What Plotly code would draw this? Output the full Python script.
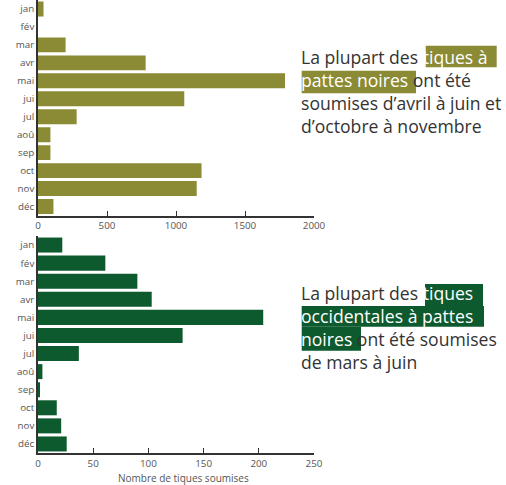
import plotly.graph_objects as go

mois = ["jan", "fév", "mar", "avr", "mai", "jui", "jul", "aoû", "sep", "oct", "nov", "déc"]
tiques_pattes_noires = [40, 0, 200, 780, 1790, 1060, 280, 90, 90, 1185, 1150, 112]
tiques_occidentales = [22, 61, 90, 103, 204, 131, 37, 4, 1, 17, 21, 26]
ticks_haut = [0, 500, 1000, 1500, 2000]
ticks_bas = [0, 50, 100, 150, 200, 250]

OLIVE = "#8B8A35"
VERT = "#0E5A2F"
FONT = "Open Sans"

W, H = 506, 485
L, R, T, B = 38, 192, 0, 32
PW, PH = W - L - R, H - T - B


def px(x):
    return (x - L) / PW


def py(y):
    return (H - B - y) / PH


fig = go.Figure()
fig.add_trace(go.Bar(y=mois, x=tiques_pattes_noires, orientation="h",
                     marker=dict(color=OLIVE, line_width=0), xaxis="x", yaxis="y",
                     hoverinfo="x+y"))
fig.add_trace(go.Bar(y=mois, x=tiques_occidentales, orientation="h",
                     marker=dict(color=VERT, line_width=0), xaxis="x2", yaxis="y2",
                     hoverinfo="x+y"))

axis_common = dict(showline=True, linecolor="#333333", linewidth=1.5, showgrid=False,
                   zeroline=False, automargin=False,
                   tickfont=dict(family=FONT, size=9.8, color="#555555"))

fig.update_layout(
    width=W, height=H,
    margin=dict(l=L, r=R, t=T, b=B),
    paper_bgcolor="white", plot_bgcolor="white",
    showlegend=False, bargap=0.17,
    font=dict(family=FONT),
    xaxis=dict(domain=[0, 1], anchor="y", range=[0, 2000], tickvals=ticks_haut,
               ticks="inside", ticklen=5, tickcolor="#333333", **axis_common),
    yaxis=dict(domain=[py(215.5), 1], anchor="x", categoryorder="array",
               categoryarray=mois, autorange="reversed", ticks="", **axis_common),
    xaxis2=dict(domain=[0, 1], anchor="y2", range=[0, 250], tickvals=ticks_bas,
                ticks="inside", ticklen=5, tickcolor="#333333", **axis_common),
    yaxis2=dict(domain=[0, py(236)], anchor="x2", categoryorder="array",
                categoryarray=mois, autorange="reversed", ticks="", **axis_common),
)

fig.add_annotation(text="Nombre de tiques soumises", xref="paper", yref="paper",
                   x=px(183), y=py(478), xanchor="center", yanchor="middle",
                   showarrow=False, font=dict(family=FONT, size=10, color="#555555"))

TXT = "#333333"
FS = 17.6


def surligne(x0, x1, y0, y1, color):
    fig.add_shape(type="rect", xref="paper", yref="paper",
                  x0=px(x0), x1=px(x1), y0=py(y1), y1=py(y0),
                  fillcolor=color, line_width=0, layer="above")


def bloc(text, x, y):
    fig.add_annotation(text=text, xref="paper", yref="paper", x=px(x), y=py(y),
                       xanchor="left", yanchor="middle", align="left", showarrow=False,
                       font=dict(family=FONT, size=FS, color=TXT), borderpad=0)


W_ = "<span style='color:white'>"
E_ = "</span>"

# Texte haut
surligne(425.7, 496.7, 45.7, 67.3, OLIVE)
surligne(301.7, 416, 70.7, 93.3, OLIVE)
bloc("La plupart des " + W_ + "tiques à" + E_ + "<br>"
     + W_ + "pattes noires" + E_ + " ont été<br>"
     + "soumises d’avril à juin et<br>"
     + "d’octobre à novembre", 300, 91.5)

# Texte bas
surligne(425, 483, 284, 306, VERT)
surligne(301.7, 484, 306, 326.7, VERT)
surligne(301.7, 361, 326.7, 350.7, VERT)
bloc("La plupart des " + W_ + "tiques" + E_ + "<br>"
     + W_ + "occidentales à pattes" + E_ + "<br>"
     + W_ + "noires" + E_ + " ont été soumises<br>"
     + "de mars à juin", 300, 327)

fig.write_html("out.html", config={"displayModeBar": False},
               post_script="document.body.style.margin='0';document.body.style.overflow='hidden';")
